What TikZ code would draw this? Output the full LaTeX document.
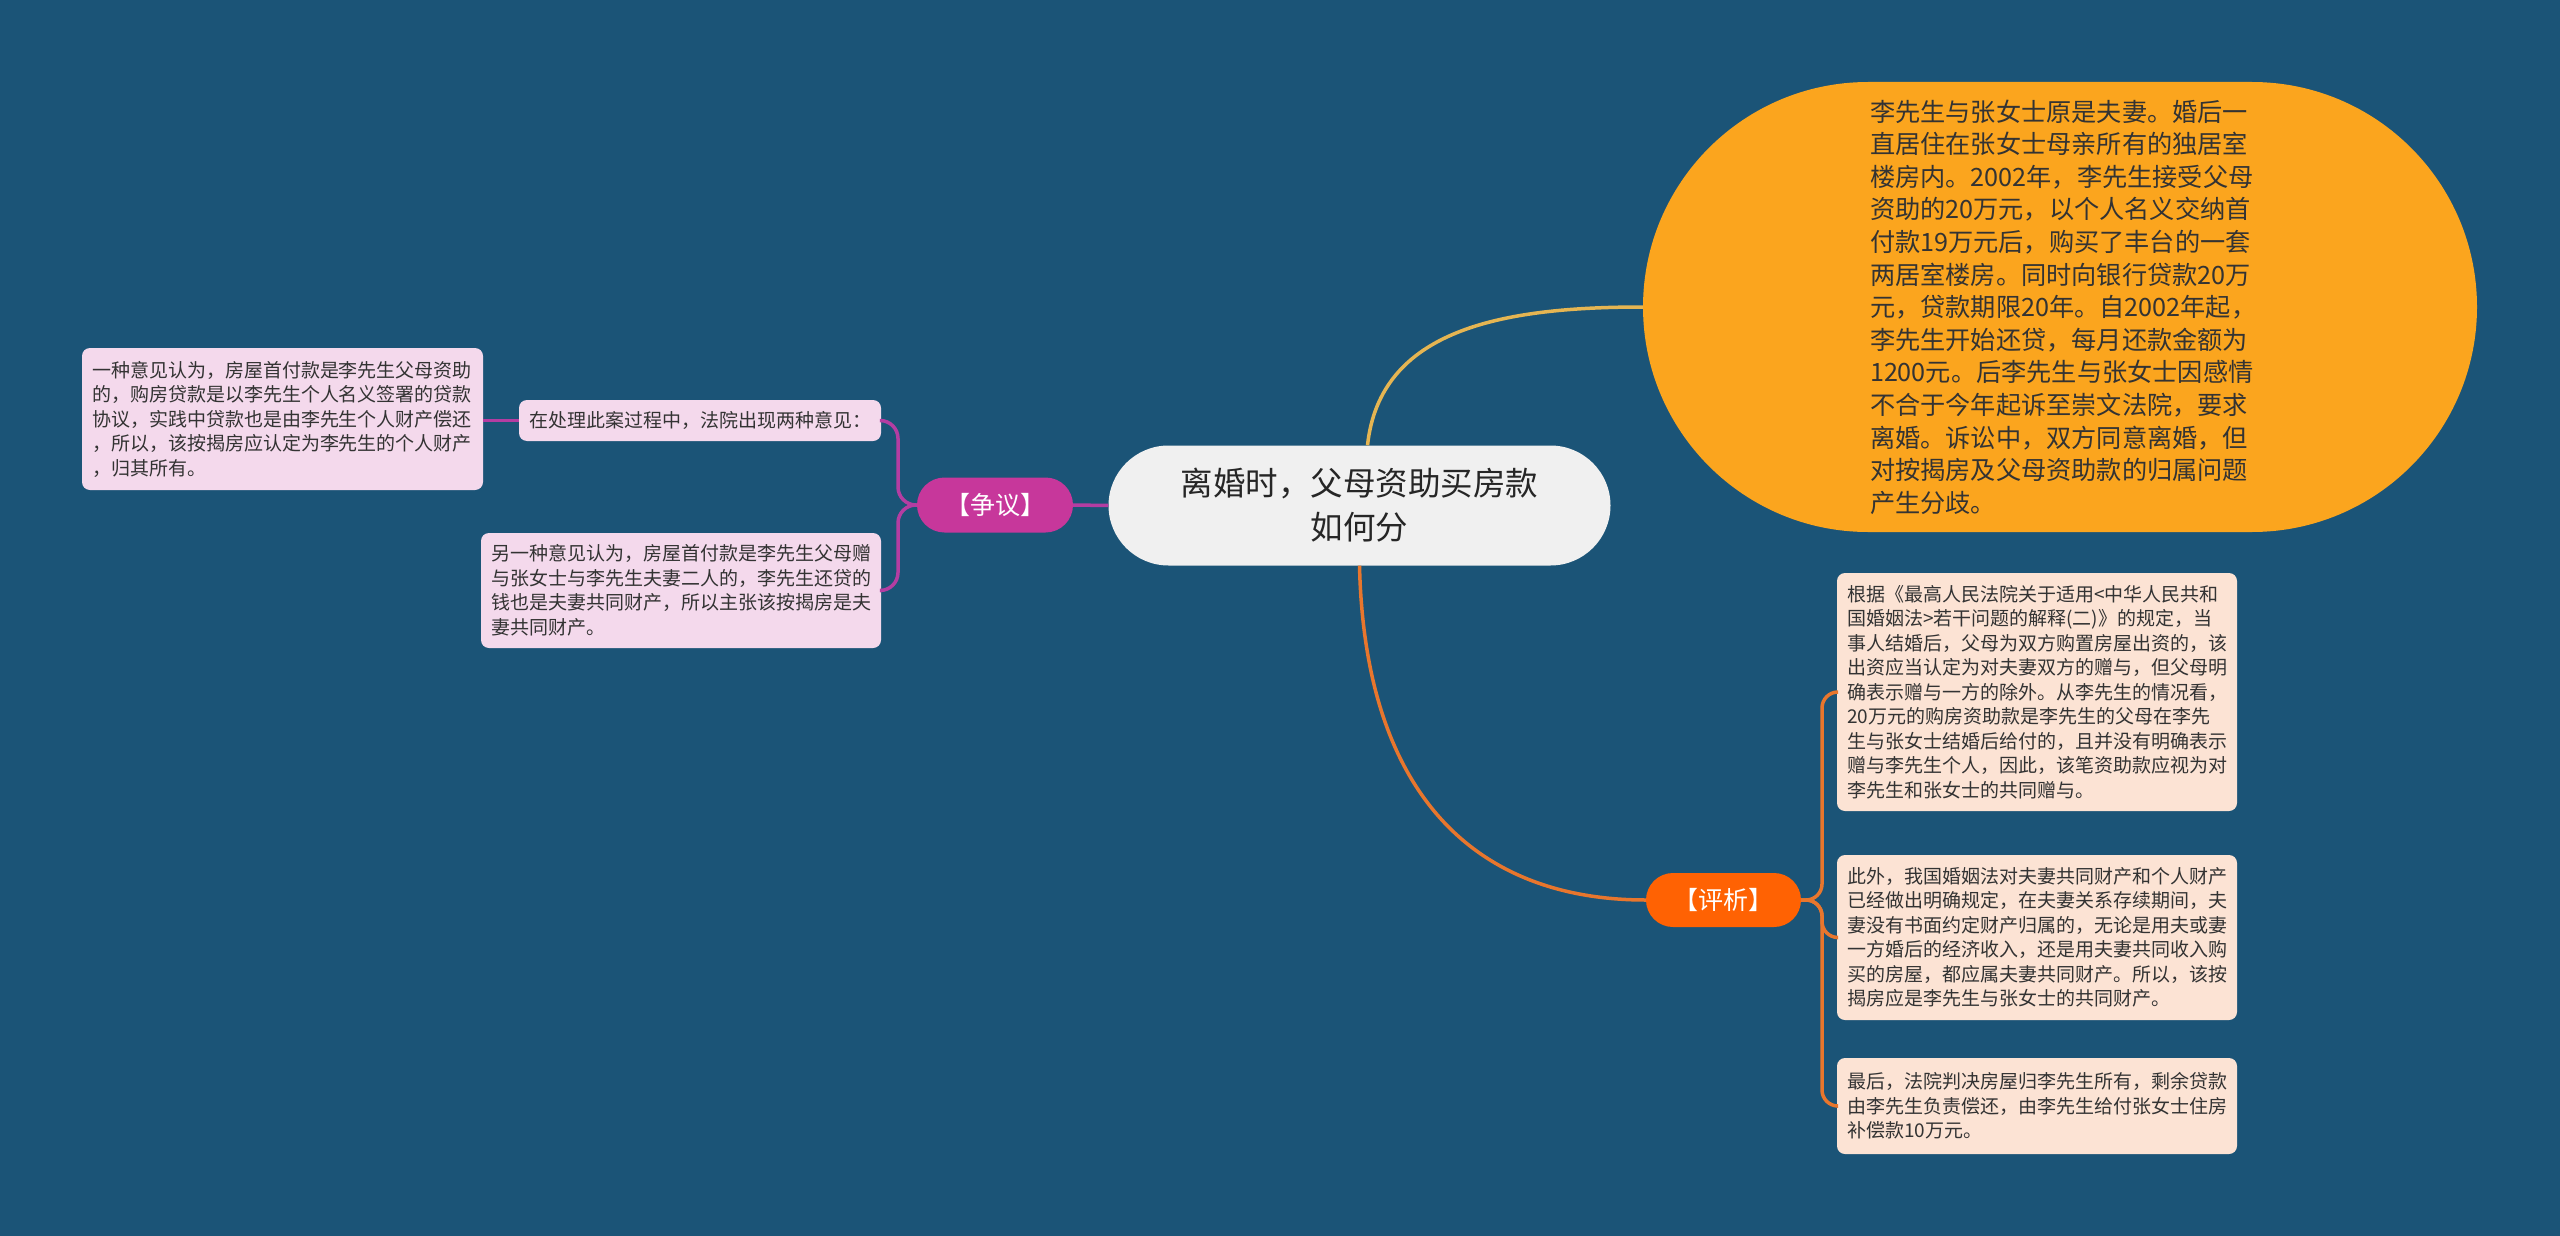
\documentclass[tikz,border=0pt]{standalone}
\usepackage{fontspec}
\setmainfont{Noto Sans CJK SC}
\newfontfamily\cjk{Noto Sans CJK SC}
\usetikzlibrary{shapes.misc}
\definecolor{bgc}{HTML}{1B5477}
\definecolor{orangenode}{HTML}{FBA51E}
\definecolor{centerfill}{HTML}{F0F0F0}
\definecolor{yline}{HTML}{E5B552}
\definecolor{oline}{HTML}{E8762D}
\definecolor{pjfill}{HTML}{FF6203}
\definecolor{zyfill}{HTML}{C7379B}
\definecolor{mline}{HTML}{B43DA2}
\definecolor{pinkbox}{HTML}{F4D9EC}
\definecolor{peachbox}{HTML}{FCE3D4}
\definecolor{txt}{HTML}{333333}
\tikzset{
  pill/.style={rounded rectangle, inner sep=0pt, align=center},
  leafbox/.style={rectangle, rounded corners=8pt, inner xsep=10pt, inner ysep=0pt,
    align=left, text=txt, font=\cjk\fontsize{19}{24.5}\selectfont},
  pinkleaf/.style={leafbox, fill=pinkbox},
  peachleaf/.style={leafbox, fill=peachbox},
  conn/.style={line width=3.5pt},
}
\begin{document}
\begin{tikzpicture}[x=1pt,y=-1pt]
\fill[bgc] (0,0) rectangle (2560,1236);
\useasboundingbox (0,0) rectangle (2560,1236);

% central
\node[pill, fill=centerfill, text=black!85, minimum width=502pt, minimum height=120pt,
  font=\cjk\fontsize{32.5}{44}\selectfont] (c) at (1359.5,505.5)
  {离婚时，父母资助买房款\\如何分};

% orange top-right
\node[pill, fill=orangenode, text=txt, minimum width=834pt, minimum height=450pt,
  text width=380pt, align=left, font=\cjk\fontsize{25.2}{32.6}\selectfont] (o) at (2060,307)
  {李先生与张女士原是夫妻。婚后一\\
直居住在张女士母亲所有的独居室\\
楼房内。2002年，李先生接受父母\\
资助的20万元，以个人名义交纳首\\
付款19万元后，购买了丰台的一套\\
两居室楼房。同时向银行贷款20万\\
元，贷款期限20年。自2002年起，\\
李先生开始还贷，每月还款金额为\\
1200元。后李先生与张女士因感情\\
不合于今年起诉至崇文法院，要求\\
离婚。诉讼中，双方同意离婚，但\\
对按揭房及父母资助款的归属问题\\
产生分歧。};

% branch pills
\node[pill, fill=zyfill, text=white, minimum width=156pt, minimum height=55pt,
  font=\cjk\fontsize{25}{28}\selectfont] (zy) at (995,505) {【争议】};
\node[pill, fill=pjfill, text=white, minimum width=155pt, minimum height=54pt,
  font=\cjk\fontsize{25}{28}\selectfont] (pj) at (1723.5,900) {【评析】};

% left leaves
\node[pinkleaf, minimum width=362pt, minimum height=41pt, text width=342pt] (a) at (700,420.5)
  {在处理此案过程中，法院出现两种意见：};
\node[pinkleaf, minimum width=401pt, minimum height=142pt, text width=381pt] (b) at (282.5,419)
  {一种意见认为，房屋首付款是李先生父母资助\\
的，购房贷款是以李先生个人名义签署的贷款\\
协议，实践中贷款也是由李先生个人财产偿还\\
，所以，该按揭房应认定为李先生的个人财产\\
，归其所有。};
\node[pinkleaf, minimum width=400pt, minimum height=115pt, text width=380pt] (cc) at (681,590.5)
  {另一种意见认为，房屋首付款是李先生父母赠\\
与张女士与李先生夫妻二人的，李先生还贷的\\
钱也是夫妻共同财产，所以主张该按揭房是夫\\
妻共同财产。};

% right leaves
\node[peachleaf, minimum width=400pt, minimum height=238pt, text width=380pt] (r1) at (2037,692)
  {根据《最高人民法院关于适用<中华人民共和\\
国婚姻法>若干问题的解释(二)》的规定，当\\
事人结婚后，父母为双方购置房屋出资的，该\\
出资应当认定为对夫妻双方的赠与，但父母明\\
确表示赠与一方的除外。从李先生的情况看，\\
20万元的购房资助款是李先生的父母在李先\\
生与张女士结婚后给付的，且并没有明确表示\\
赠与李先生个人，因此，该笔资助款应视为对\\
李先生和张女士的共同赠与。};
\node[peachleaf, minimum width=400pt, minimum height=165pt, text width=380pt] (r2) at (2037,937.5)
  {此外，我国婚姻法对夫妻共同财产和个人财产\\
已经做出明确规定，在夫妻关系存续期间，夫\\
妻没有书面约定财产归属的，无论是用夫或妻\\
一方婚后的经济收入，还是用夫妻共同收入购\\
买的房屋，都应属夫妻共同财产。所以，该按\\
揭房应是李先生与张女士的共同财产。};
\node[peachleaf, minimum width=400pt, minimum height=96pt, text width=380pt] (r3) at (2037,1106)
  {最后，法院判决房屋归李先生所有，剩余贷款\\
由李先生负责偿还，由李先生给付张女士住房\\
补偿款10万元。};

% junction coordinates
\coordinate (zyj) at (898,505);
\coordinate (pjj) at (1822,900);

% connectors
\draw[conn, yline] ([xshift=8pt]c.north) .. controls (1380,330) and (1500,307) .. (o.west);
\draw[conn, oline] (c.south) .. controls (1365,800) and (1480,900) .. (pj.west);
\draw[conn, mline] (c.west) -- (zy.east);
\draw[conn, mline, rounded corners=18pt] (zy.west) -- (zyj) |- (a.east);
\draw[conn, mline, rounded corners=18pt] (zy.west) -- (zyj) |- (cc.east);
\draw[conn, mline] (a.west) -- (a.west -| b.east);
\draw[conn, oline, rounded corners=16pt] (pj.east) -- (pjj) |- (r1.west);
\draw[conn, oline, rounded corners=16pt] (pj.east) -- (pjj) |- (r2.west);
\draw[conn, oline, rounded corners=16pt] (pj.east) -- (pjj) |- (r3.west);
\end{tikzpicture}
\end{document}
